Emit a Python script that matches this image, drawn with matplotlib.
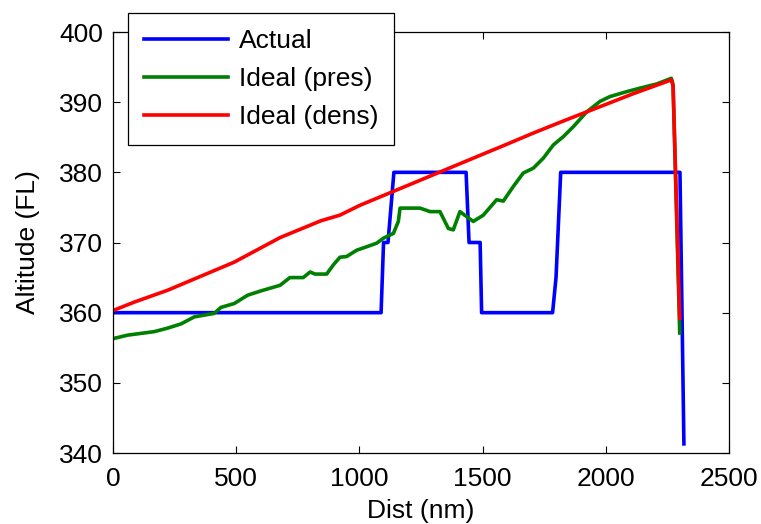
#!/usr/bin/env python3
"""Altitude profile: actual vs. ideal (pressure / density) cruise altitude."""

import matplotlib

matplotlib.use("Agg")
import matplotlib.pyplot as plt


# Actual flown altitude
actual_dist = [0, 1088, 1098, 1116, 1140, 1433, 1445, 1490, 1496, 1784, 1798, 1817, 2301, 2317]
actual_alt = [360, 360, 370, 370, 380, 380, 370, 370, 360, 360, 365, 380, 380, 341.3]

# Ideal altitude, pressure based
pres_dist = [0, 60, 114, 168, 222, 276, 330, 411, 438, 492, 547, 600, 678, 718, 772,
             800, 820, 867, 894, 921, 948, 989, 1030, 1070, 1097, 1138, 1158, 1165,
             1246, 1287, 1327, 1361, 1381, 1408, 1462, 1503, 1557, 1584, 1625, 1665,
             1706, 1746, 1787, 1828, 1868, 1922, 1976, 2017, 2085, 2139, 2207, 2266,
             2273, 2300]
pres_alt = [356.3, 356.8, 357.05, 357.3, 357.8, 358.4, 359.4, 359.9, 360.75, 361.3, 362.5,
            363.1, 363.9, 365.0, 365.0, 365.8, 365.5, 365.5, 366.8, 367.9, 368.0, 368.9,
            369.4, 369.9, 370.6, 371.3, 373.0, 374.9, 374.9, 374.4, 374.4, 372.0, 371.8,
            374.4, 373.0, 373.9, 376.1, 375.9, 378.0, 379.9, 380.6, 382.0, 383.9, 385.1,
            386.5, 388.6, 390.1, 390.8, 391.5, 392.0, 392.6, 393.4, 392.5, 357.1]

# Ideal altitude, density based
dens_dist = [0, 86, 222, 357, 492, 678, 844, 921, 1002, 1543, 1571, 1706, 1841, 1976,
             2111, 2260, 2266, 2273, 2300]
dens_alt = [360.3, 361.5, 363.2, 365.2, 367.2, 370.7, 373.1, 373.9, 375.3, 383.2, 383.6,
            385.6, 387.5, 389.35, 391.2, 393.1, 393.2, 392.3, 359.2]

x_ticks = [0, 500, 1000, 1500, 2000, 2500]
y_ticks = [340, 350, 360, 370, 380, 390, 400]

FONT_SIZE = 19


def main() -> None:
    plt.rcParams["font.family"] = ["Liberation Sans", "DejaVu Sans"]
    fig = plt.figure(figsize=(7.61, 5.24), dpi=100)
    ax = fig.add_axes([113 / 761, 1 - 453 / 524, 616 / 761, 421 / 524])

    ax.plot(actual_dist, actual_alt, color="#0000ff", lw=2.6, label="Actual")
    ax.plot(pres_dist, pres_alt, color="#008000", lw=2.6, label="Ideal (pres)")
    ax.plot(dens_dist, dens_alt, color="#ff0000", lw=2.6, label="Ideal (dens)")

    ax.set_xlim(0, 2500)
    ax.set_ylim(340, 400)
    ax.set_xticks(x_ticks)
    ax.set_yticks(y_ticks)
    ax.tick_params(direction="in", top=True, right=True, length=5, width=0.8,
                   labelsize=FONT_SIZE, pad=7)
    ax.tick_params(axis="x", pad=10)
    for spine in ax.spines.values():
        spine.set_linewidth(0.9)

    ax.set_xlabel("Dist (nm)", fontsize=FONT_SIZE, labelpad=6)
    ax.set_ylabel("Altitude (FL)", fontsize=FONT_SIZE, labelpad=14)

    leg = fig.legend(loc="upper left", bbox_to_anchor=(128 / 761, 1 - 13 / 524),
                     bbox_transform=fig.transFigure, borderaxespad=0, fontsize=FONT_SIZE,
                     handlelength=3.2, handletextpad=0.4, labelspacing=0.53,
                     borderpad=0.6, fancybox=False, framealpha=1)
    leg.get_frame().set_edgecolor("black")
    leg.get_frame().set_linewidth(0.9)

    fig.savefig("out.png", dpi=100)
    plt.close(fig)


if __name__ == "__main__":
    main()
